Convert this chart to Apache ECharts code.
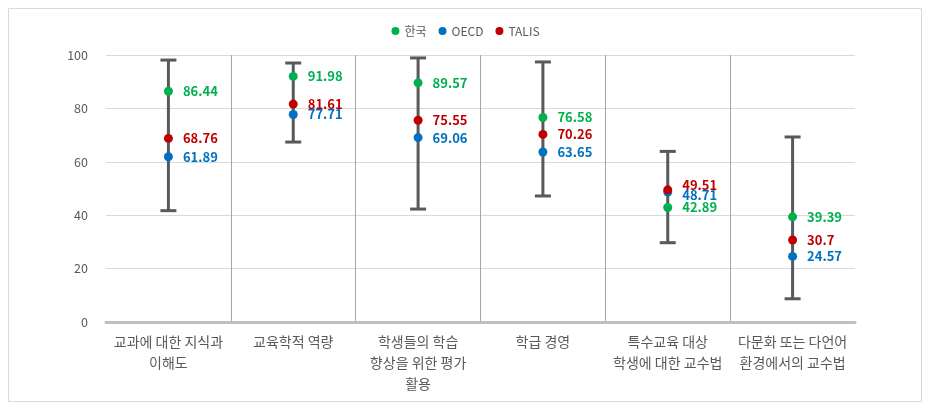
<!DOCTYPE html>
<html><head><meta charset="utf-8">
<script src="https://cdn.jsdelivr.net/npm/echarts@6/dist/echarts.min.js"></script>
<style>html,body{margin:0;padding:0;background:#fff}#c{width:931px;height:410px}</style>
</head><body><div id="c"></div>
<script>
const categories = ['교과에 대한 지식과\n이해도','교육학적 역량','학생들의 학습\n향상을 위한 평가\n활용','학급 경영','특수교육 대상\n학생에 대한 교수법','다문화 또는 다언어\n환경에서의 교수법'];
const seriesNames = ['한국','OECD','TALIS'];
const korea = [86.44, 91.98, 89.57, 76.58, 42.89, 39.39];
const oecd  = [61.89, 77.71, 69.06, 63.65, 48.71, 24.57];
const talis = [68.76, 81.61, 75.55, 70.26, 49.51, 30.7];
const rangeMax = [98.1, 97.0, 98.9, 97.4, 63.9, 69.3];
const rangeMin = [41.7, 67.4, 42.3, 47.2, 29.7, 8.7];
const yTicks = [0, 20, 40, 60, 80, 100];

const colors = ['#00B050', '#0070C0', '#C00000'];
const labelOffsets = [
  [[0,0],[0,0],[0,0],[0,0],[0,0],[0,0]],
  [[0,0],[0,0],[0,0],[0,0],[0,3],[0,0]],
  [[0,0],[0,0],[0,0],[0,0],[0,-5],[0,0]]
];
const chart = echarts.init(document.getElementById('c'));
const txt = '#595959';
const font = '"Noto Sans CJK KR","Noto Sans",sans-serif';

const whiskerData = categories.map((c, i) => [i, rangeMin[i], rangeMax[i]]);

const scatterSeries = [korea, oecd, talis].map((arr, s) => ({
  name: seriesNames[s],
  type: 'scatter',
  symbol: 'circle',
  symbolSize: 9,
  z: 5 + s,
  itemStyle: { color: colors[s], opacity: 1 },
  data: arr.map((v, i) => ({
    value: [i, v],
    label: { offset: labelOffsets[s][i] }
  })),
  label: {
    show: true, position: 'right', distance: 10,
    color: colors[s], fontWeight: 'bold', fontSize: 13, fontFamily: font,
    formatter: p => String(p.value[1])
  }
}));

chart.setOption({
  animation: false,
  textStyle: { fontFamily: font },
  graphic: [{
    type: 'rect', shape: { x: 8.5, y: 8.5, width: 913, height: 393 },
    style: { fill: 'none', stroke: '#d9d9d9', lineWidth: 1 }, silent: true
  }],
  legend: {
    top: 20, left: 'center', itemWidth: 8, itemHeight: 8, itemGap: 12,
    icon: 'circle',
    textStyle: { color: txt, fontSize: 12, fontFamily: font },
    data: seriesNames
  },
  grid: { left: 106, right: 76, top: 55, bottom: 88 },
  xAxis: {
    type: 'category', data: categories, boundaryGap: true,
    axisLine: { lineStyle: { color: '#bfbfbf', width: 3 } },
    axisTick: { show: false },
    axisLabel: { interval: 0, color: txt, fontSize: 14, lineHeight: 21, margin: 9, fontFamily: font },
    splitLine: { show: true, showMinLine: false, showMaxLine: false, lineStyle: { color: '#a6a6a6', width: 1 } }
  },
  yAxis: {
    type: 'value', min: yTicks[0], max: yTicks[yTicks.length-1], interval: 20,
    axisLine: { show: false }, axisTick: { show: false },
    axisLabel: { color: txt, fontSize: 12.5, margin: 18, fontFamily: font },
    splitLine: { lineStyle: { color: '#d9d9d9', width: 1 } }
  },
  series: [{
    type: 'custom', name: 'range', z: 2, silent: true,
    data: whiskerData,
    renderItem: (params, api) => {
      const x = api.value(0);
      const lo = api.coord([x, api.value(1)]);
      const hi = api.coord([x, api.value(2)]);
      const hw = 8;
      const st = { stroke: '#595959', lineWidth: 3 };
      return { type: 'group', children: [
        { type: 'line', shape: { x1: lo[0], y1: lo[1], x2: hi[0], y2: hi[1] }, style: st },
        { type: 'line', shape: { x1: hi[0]-hw, y1: hi[1], x2: hi[0]+hw, y2: hi[1] }, style: st },
        { type: 'line', shape: { x1: lo[0]-hw, y1: lo[1], x2: lo[0]+hw, y2: lo[1] }, style: st }
      ]};
    },
    encode: { x: 0, y: [1, 2] }
  }].concat(scatterSeries)
});
</script></body></html>
